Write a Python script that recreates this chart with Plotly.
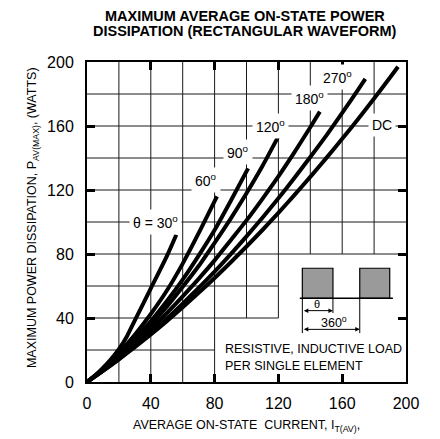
import plotly.graph_objects as go

# ---------------- data ----------------
i_30 = [0, 5, 10, 15, 20, 25, 30, 40, 50, 56]
p_30 = [0, 4, 8.8, 14.2, 20.5, 28.5, 38.5, 58.5, 78.5, 92]

i_60 = [0, 10, 20, 30, 40, 50, 60, 70, 81.5]
p_60 = [0, 8, 18, 29.5, 42.5, 57, 74, 93, 116]

i_90 = [0, 10, 20, 30, 40, 50, 60, 70, 80, 90, 101]
p_90 = [0, 7.8, 17, 27, 38, 50.5, 64, 79, 95, 113, 133.5]

i_120 = [0, 10, 20, 30, 40, 50, 60, 70, 80, 90, 100, 110, 120]
p_120 = [0, 7.5, 16, 25.5, 35.8, 47, 59.5, 72.5, 87, 102, 118, 135, 153.5]

i_180 = [0, 10, 20, 30, 40, 50, 60, 70, 80, 90, 100, 110, 120, 130, 140, 146]
p_180 = [0, 7.3, 15.2, 23.8, 33, 43, 53.5, 64.5, 76, 88.5, 101, 114.5, 128.5, 143.5, 159.2, 169]

i_270 = [0, 10, 20, 30, 40, 50, 60, 70, 80, 90, 100, 110, 120, 130, 140, 150, 160, 170, 174.5]
p_270 = [0, 7, 14.4, 22.4, 30.8, 39.6, 49, 58.8, 69, 79.8, 91, 102.7, 114.8, 127.5, 140.6, 154, 168.2, 182.7, 189.4]

i_dc = [0, 10, 20, 30, 40, 50, 60, 70, 80, 90, 100, 110, 120, 130, 140, 150, 160, 170, 180, 190, 195]
p_dc = [0, 6.9, 14.2, 21.8, 29.7, 38, 46.7, 55.7, 65, 74.7, 84.7, 95, 105.7, 116.8, 128.2, 139.9, 152, 164.4, 177.2, 190.3, 197]

curve_labels = ["θ = 30<sup>o</sup>", "60<sup>o</sup>", "90<sup>o</sup>", "120<sup>o</sup>",
                "180<sup>o</sup>", "270<sup>o</sup>", "DC"]
label_x = [43.1, 74.3, 94.6, 115, 139.6, 157, 185]
label_y = [100, 126.2, 143.8, 160.3, 177.2, 190.8, 160.6]

tick_vals = [0, 40, 80, 120, 160, 200]
tick_text = ["0", "40", "80", "120", "160", "200"]

FONT = "Liberation Sans, Arial, sans-serif"

fig = go.Figure()

for xs, ys in [(i_30, p_30), (i_60, p_60), (i_90, p_90), (i_120, p_120),
               (i_180, p_180), (i_270, p_270), (i_dc, p_dc)]:
    fig.add_trace(go.Scatter(x=xs, y=ys, mode="lines",
                             line=dict(color="black", width=4, shape="spline", smoothing=0.6),
                             hoverinfo="skip", showlegend=False))

shapes = []
grid = dict(color="#1a1a1a", width=1)
for gx, y0 in [(20, 0), (40, 0), (60, 0), (80, 0), (100, 40), (120, 40), (140, 80), (160, 80), (180, 80)]:
    shapes.append(dict(type="line", xref="x", yref="y", x0=gx, x1=gx, y0=y0, y1=200, line=grid, layer="below"))
for gy, x1 in [(20, 80), (40, 120), (60, 120), (80, 200), (100, 200), (120, 200), (140, 200), (160, 200), (180, 200)]:
    shapes.append(dict(type="line", xref="x", yref="y", x0=0, x1=x1, y0=gy, y1=gy, line=grid, layer="below"))

for x0, x1 in [(135, 154.2), (171, 189.8)]:
    shapes.append(dict(type="rect", xref="x", yref="y", x0=x0, x1=x1, y0=52.3, y1=71.1,
                       fillcolor="#9a9a9a", line=dict(color="black", width=1.2)))
shapes.append(dict(type="line", xref="x", yref="y", x0=133.4, x1=191.8, y0=52.3, y1=52.3,
                   line=dict(color="black", width=1.5)))
for vx, vy in [(135, 30.6), (154.2, 43.1), (171, 30.6)]:
    shapes.append(dict(type="line", xref="x", yref="y", x0=vx, x1=vx, y0=52.3, y1=vy,
                       line=dict(color="black", width=1)))

annotations = []
for t, x, y in zip(curve_labels, label_x, label_y):
    annotations.append(dict(x=x, y=y, xref="x", yref="y", text=t, showarrow=False,
                            xanchor="center", yanchor="middle",
                            font=dict(family=FONT, size=14, color="black"),
                            bgcolor="white", borderpad=3))

for xa, xb, ya in [(135, 154.2, 44.6), (135, 171, 32.9)]:
    annotations.append(dict(x=xb, y=ya, ax=xa, ay=ya, xref="x", yref="y", axref="x", ayref="y",
                            text="", showarrow=True, arrowhead=2, startarrowhead=2,
                            arrowside="end+start", arrowsize=0.9, arrowwidth=1, arrowcolor="black",
                            standoff=0, startstandoff=0))
annotations.append(dict(x=144.4, y=48.6, xref="x", yref="y", text="θ", showarrow=False,
                        xanchor="center", yanchor="middle",
                        font=dict(family=FONT, size=11, color="black")))
annotations.append(dict(x=154.7, y=37.2, xref="x", yref="y", text="360<sup>o</sup>", showarrow=False,
                        xanchor="center", yanchor="middle",
                        font=dict(family=FONT, size=12.5, color="black")))
annotations.append(dict(x=85.2, y=20.6, xref="x", yref="y", text="RESISTIVE, INDUCTIVE LOAD",
                        showarrow=False, xanchor="left", yanchor="middle",
                        font=dict(family=FONT, size=12.5, color="black")))
annotations.append(dict(x=85.2, y=10, xref="x", yref="y", text="PER SINGLE ELEMENT",
                        showarrow=False, xanchor="left", yanchor="middle",
                        font=dict(family=FONT, size=12.5, color="black")))

annotations.append(dict(x=0.495, y=1.14375, xref="paper", yref="paper", text="<b>MAXIMUM AVERAGE ON-STATE POWER</b>",
                        showarrow=False, xanchor="center", yanchor="middle",
                        font=dict(family=FONT, size=14.5, color="black")))
annotations.append(dict(x=0.495, y=1.096875, xref="paper", yref="paper", text="<b>DISSIPATION (RECTANGULAR WAVEFORM)</b>",
                        showarrow=False, xanchor="center", yanchor="middle",
                        font=dict(family=FONT, size=14.5, color="black")))
annotations.append(dict(x=0.501, y=-0.1375, xref="paper", yref="paper",
                        text="AVERAGE ON-STATE&nbsp; CURRENT, I<sub>T(AV)</sub>,",
                        showarrow=False, xanchor="center", yanchor="middle",
                        font=dict(family=FONT, size=12.5, color="black")))
annotations.append(dict(x=-0.169, y=0.5125, xref="paper", yref="paper", textangle=-90,
                        text="MAXIMUM POWER DISSIPATION, P<sub>AV(MAX)</sub>, (WATTS)",
                        showarrow=False, xanchor="center", yanchor="middle",
                        font=dict(family=FONT, size=12.5, color="black")))

axis_common = dict(range=[0, 200], tickvals=tick_vals, ticktext=tick_text, showgrid=False, zeroline=False,
                   showline=True, linecolor="black", linewidth=2, mirror="ticks",
                   ticks="inside", ticklen=8, tickwidth=2.5, tickcolor="black", automargin=False,
                   tickfont=dict(family=FONT, size=16, color="black"), fixedrange=True)

fig.update_layout(
    width=440, height=439,
    margin=dict(l=87, r=34, t=62, b=57, autoexpand=False),
    paper_bgcolor="white", plot_bgcolor="white",
    xaxis=dict(**axis_common, ticklabelstandoff=6),
    yaxis=dict(**axis_common, ticklabelstandoff=8),
    shapes=shapes, annotations=annotations,
    showlegend=False,
)

fig.write_html("out.html", config={"displayModeBar": False},
               post_script="document.body.style.margin='0';document.body.style.padding='0';")
